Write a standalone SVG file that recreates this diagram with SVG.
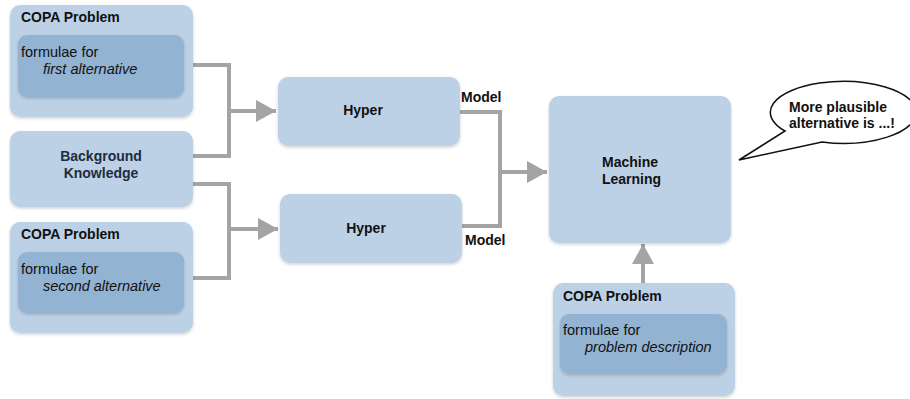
<svg xmlns="http://www.w3.org/2000/svg" width="910" height="399" viewBox="0 0 910 399">
<style>
.outer{fill:#bdd1e6;filter:url(#sh)}
.inner{fill:#93b3d3;filter:url(#sh)}
.t{font-family:"Liberation Sans",Arial,sans-serif;font-size:14px;fill:#111}
.b{font-weight:bold}
.i{font-style:italic}
.bk{fill:#1e2c3c}
.c{fill:none;stroke:#a3a4a3;stroke-width:4;stroke-linejoin:miter}
</style>
<defs>
<filter id="sh" x="-10%" y="-10%" width="120%" height="130%">
<feDropShadow dx="0" dy="1.5" stdDeviation="1.5" flood-color="#000" flood-opacity="0.18"/>
</filter>
<marker id="ah" markerUnits="userSpaceOnUse" markerWidth="20" markerHeight="22" refX="20" refY="11" orient="auto">
<path d="M0,0 L20,11 L0,22 z" fill="#a3a4a3"/>
</marker>
</defs>
<rect width="910" height="399" fill="#fff"/>
<g id="connectors">
<path class="c" d="M193,65 H229 V156 H193"/>
<path class="c" d="M229,111 H276" marker-end="url(#ah)"/>
<path class="c" d="M193,184 H229 V278 H193"/>
<path class="c" d="M229,229 H278" marker-end="url(#ah)"/>
<path class="c" d="M460,112 H500 V226 H462"/>
<path class="c" d="M500,172 H547" marker-end="url(#ah)"/>
<path class="c" d="M643,283 V244" marker-end="url(#ah)"/>
</g>
<g id="copa1">
<rect class="outer" x="10" y="5" width="183" height="112" rx="10"/>
<rect class="inner" x="18" y="35" width="166" height="62" rx="9"/>
<text class="t b" x="21" y="22">COPA Problem</text>
<text class="t" x="21" y="57" style="font-size:14.5px">formulae for</text>
<text class="t i" x="43" y="74" style="font-size:14.5px">first alternative</text>
</g>
<g id="background">
<rect class="outer" x="10" y="131" width="183" height="76" rx="10"/>
<text class="t b bk" x="101" y="161" text-anchor="middle">Background</text>
<text class="t b bk" x="101" y="178" text-anchor="middle">Knowledge</text>
</g>
<g id="copa2">
<rect class="outer" x="10" y="222" width="183" height="111" rx="10"/>
<rect class="inner" x="18" y="252" width="166" height="61" rx="9"/>
<text class="t b" x="21" y="239">COPA Problem</text>
<text class="t" x="21" y="274" style="font-size:14.5px">formulae for</text>
<text class="t i" x="43" y="291" style="font-size:14.5px">second alternative</text>
</g>
<g id="hyper1">
<rect class="outer" x="278" y="77" width="182" height="69" rx="10"/>
<text class="t b" x="363" y="115" text-anchor="middle">Hyper</text>
</g>
<g id="hyper2">
<rect class="outer" x="280" y="194" width="182" height="69" rx="10"/>
<text class="t b" x="366" y="233" text-anchor="middle">Hyper</text>
</g>
<g id="labels">
<text class="t b" x="461" y="102">Model</text>
<text class="t b" x="465" y="245">Model</text>
</g>
<g id="ml">
<rect class="outer" x="549" y="96" width="182" height="147" rx="10"/>
<text class="t b" x="602" y="167">Machine</text>
<text class="t b" x="602" y="184">Learning</text>
</g>
<g id="copa3">
<rect class="outer" x="553" y="283" width="182" height="113" rx="10"/>
<rect class="inner" x="560" y="314" width="167" height="60" rx="9"/>
<text class="t b" x="563" y="301">COPA Problem</text>
<text class="t" x="563" y="335" style="font-size:14.5px">formulae for</text>
<text class="t i" x="585" y="352" style="font-size:14.5px">problem description</text>
</g>
<g id="bubble">
<path d="M785,131 A73,31 0 1 1 822,142 L739,160 Z" fill="#fff" stroke="#111" stroke-width="1.5" stroke-linejoin="miter"/>
<text class="t b" x="789" y="112">More plausible</text>
<text class="t b" x="789" y="128">alternative is ...!</text>
</g>
</svg>
